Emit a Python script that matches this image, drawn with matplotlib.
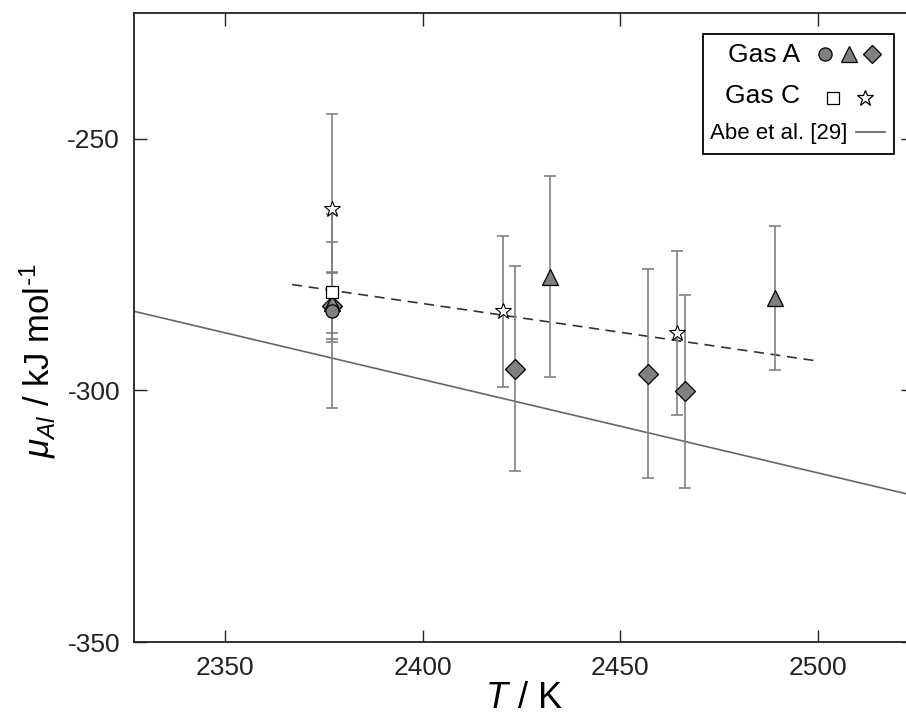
import numpy as np
import matplotlib
matplotlib.use('Agg')
import matplotlib.pyplot as plt
from matplotlib.patches import Rectangle

plt.rcParams['font.family'] = ['Liberation Sans', 'DejaVu Sans']
plt.rcParams['mathtext.fontset'] = 'custom'
plt.rcParams['mathtext.rm'] = 'Liberation Sans'
plt.rcParams['mathtext.it'] = 'Liberation Sans:italic'
plt.rcParams['axes.unicode_minus'] = False

# Gas A runs (three series)
T_circle = [2377.0]
mu_circle = [-284.3]
err_circle = [19.3]

T_tri = [2377.0, 2432.2, 2489.0]
mu_tri = [-282.6, -277.4, -281.7]
err_tri = [6.0, 20.0, 14.3]

T_dia = [2377.0, 2423.4, 2457.1, 2466.4]
mu_dia = [-283.3, -295.7, -296.7, -300.2]
err_dia = [6.5, 20.4, 20.7, 19.2]

# Gas C runs (two series)
T_sq = [2377.0]
mu_sq = [-280.5]
err_sq = [10.0]

T_star = [2377.0, 2420.2, 2464.3]
mu_star = [-264.0, -284.3, -288.6]
err_star = [18.9, 15.0, 16.3]

# linear trend through the measurements
fit_T = [2367, 2500]
fit_mu = [-279.0, -294.2]

# Abe et al. [29]
abe_T = [2300, 2550]
abe_mu = [-279.3, -325.7]

fig = plt.figure(figsize=(9.06, 7.19), dpi=100)
ax = fig.add_axes([134 / 906, 77 / 719, 779 / 906, 629.3 / 719])

ebar_kw = dict(fmt='none', ecolor='#808080', elinewidth=1.2, capsize=4.5, capthick=1.2, zorder=2)
ax.errorbar(T_circle, mu_circle, yerr=err_circle, **ebar_kw)
ax.errorbar(T_tri, mu_tri, yerr=err_tri, **ebar_kw)
ax.errorbar(T_dia, mu_dia, yerr=err_dia, **ebar_kw)
ax.errorbar(T_sq, mu_sq, yerr=err_sq, **ebar_kw)
ax.errorbar(T_star, mu_star, yerr=err_star, **ebar_kw)

ax.plot(abe_T, abe_mu, color='#666666', lw=1.2, zorder=1)
ax.plot(fit_T, fit_mu, color='#333333', lw=1.2, ls=(0, (6, 4)), zorder=1)

gray = '#808080'
ax.plot(T_dia, mu_dia, 'D', ms=10, mfc=gray, mec='black', mew=0.9, ls='none', zorder=3)
ax.plot(T_tri, mu_tri, '^', ms=12, mfc=gray, mec='black', mew=0.9, ls='none', zorder=4)
ax.plot(T_circle, mu_circle, 'o', ms=9.5, mfc=gray, mec='black', mew=0.9, ls='none', zorder=5)
ax.plot(T_sq, mu_sq, 's', ms=8.5, mfc='white', mec='black', mew=0.9, ls='none', zorder=6)
ax.plot(T_star, mu_star, '*', ms=12, mfc='white', mec='black', mew=0.8, ls='none', zorder=7)

ax.set_xlim(2327, 2524)
ax.set_ylim(-350, -225)
ax.set_xticks([2350, 2400, 2450, 2500])
ax.set_yticks([-350, -300, -250])
ax.tick_params(direction='in', length=9, width=1.0, top=True, right=True,
               labelsize=19, pad=10, colors='#222222')
for s in ax.spines.values():
    s.set_linewidth(1.3)
    s.set_color('#222222')

ax.set_xlabel(r'$T$ / K', fontsize=26, labelpad=1)
ax.set_ylabel(r'$\mu_{Al}$ / kJ mol$^{\text{-}1}$', fontsize=25)
ax.yaxis.set_label_coords(-0.098, 0.4465)

# legend box drawn by hand
tr = ax.transAxes
ax.add_patch(Rectangle((0.7308, 0.7755), 0.2452, 0.1907, transform=tr,
                       fill=True, facecolor='white', edgecolor='black', lw=1.3, zorder=10))
ax.text(0.855, 0.922, 'Gas A', transform=tr, ha='right', va='baseline', fontsize=19, zorder=11)
ax.text(0.855, 0.856, 'Gas C', transform=tr, ha='right', va='baseline', fontsize=19, zorder=11)
ax.text(0.7394, 0.7993, 'Abe et al. [29]', transform=tr, ha='left', va='baseline', fontsize=16, zorder=11)
mk = dict(transform=tr, ls='none', mec='black', mew=0.9, zorder=11, clip_on=False)
ax.plot([0.887], [0.934], 'o', ms=9.5, mfc=gray, **mk)
ax.plot([0.9178], [0.934], '^', ms=11.5, mfc=gray, **mk)
ax.plot([0.9478], [0.934], 'D', ms=9.5, mfc=gray, **mk)
ax.plot([0.8977], [0.865], 's', ms=8.5, mfc='white', **mk)
ax.plot([0.9384], [0.865], '*', ms=12, mfc='white', **mk)
ax.plot([0.9262, 0.9639], [0.81, 0.81], color='#666666', lw=1.3, transform=tr, zorder=11)

fig.savefig('out.png', dpi=100)
